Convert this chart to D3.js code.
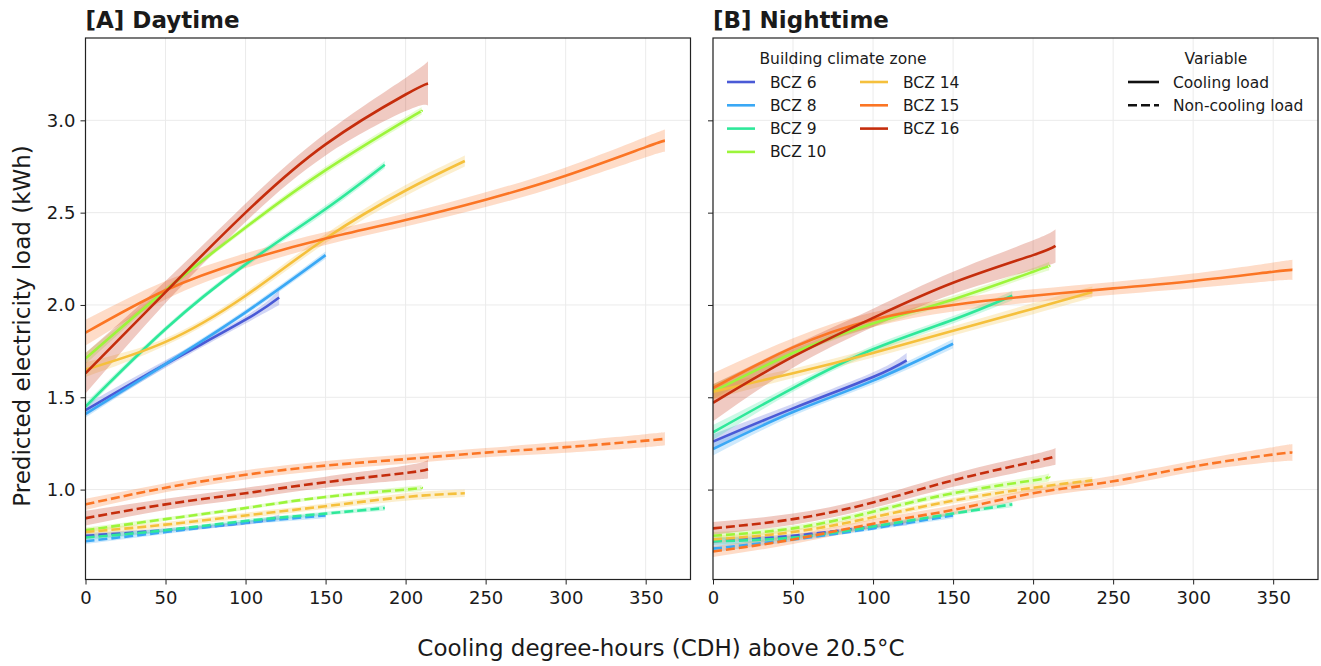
<!DOCTYPE html>
<html lang="en">
<head>
<meta charset="UTF-8">
<script src="https://d3js.org/d3.v7.min.js"></script>
<style>
  body { margin: 0; background: #fff; }
  svg text { font-family: "DejaVu Sans", sans-serif; fill: #1a1a1a; }
</style>
</head>
<body>
<div id="plot"></div>
<script>
// zones, colours and where each zone's CDH range ends
const zones = ["BCZ 6", "BCZ 8", "BCZ 9", "BCZ 10", "BCZ 14", "BCZ 15", "BCZ 16"];
const zoneColors = ["#4a5ad6", "#3aa8f5", "#2ee89a", "#9cf53a", "#f5c03c", "#fb7524", "#c52d0c"];
const zoneMax = [121, 150, 187, 210, 237, 362, 214];
// x knots: 0, 50, 100, ... then the last value is at zoneMax
const knots = [0, 50, 100, 150, 200, 250, 300, 350];

// [A] daytime, cooling load (solid)
const dayCool = [
  [1.43, 1.68, 1.92, 2.04],
  [1.41, 1.68, 1.96, 2.27],
  [1.45, 1.87, 2.22, 2.52, 2.76],
  [1.71, 2.08, 2.42, 2.73, 3.00, 3.05],
  [1.65, 1.80, 2.05, 2.36, 2.62, 2.78],
  [1.85, 2.08, 2.24, 2.36, 2.46, 2.57, 2.70, 2.855, 2.89],
  [1.63, 2.07, 2.50, 2.87, 3.14, 3.20]
];
const dayCoolCI = [
  [0.03, 0.02, 0.02, 0.04],
  [0.02, 0.015, 0.015, 0.02],
  [0.02, 0.015, 0.015, 0.02, 0.02],
  [0.03, 0.015, 0.015, 0.02, 0.02, 0.02],
  [0.04, 0.02, 0.02, 0.025, 0.03, 0.03],
  [0.07, 0.05, 0.04, 0.035, 0.035, 0.04, 0.045, 0.055, 0.06],
  [0.11, 0.06, 0.05, 0.06, 0.09, 0.12]
];
// [A] daytime, non-cooling load (dashed)
const dayNon = [
  [0.75, 0.78, 0.82, 0.85],
  [0.72, 0.77, 0.82, 0.86],
  [0.74, 0.78, 0.83, 0.87, 0.90],
  [0.78, 0.84, 0.90, 0.96, 1.00, 1.01],
  [0.77, 0.81, 0.86, 0.91, 0.96, 0.98],
  [0.92, 1.01, 1.08, 1.13, 1.165, 1.20, 1.23, 1.265, 1.275],
  [0.845, 0.92, 0.98, 1.04, 1.09, 1.11]
];
const dayNonCI = [
  [0.015, 0.01, 0.01, 0.015],
  [0.015, 0.01, 0.01, 0.015],
  [0.015, 0.01, 0.01, 0.01, 0.015],
  [0.015, 0.01, 0.01, 0.01, 0.015, 0.015],
  [0.02, 0.015, 0.015, 0.015, 0.02, 0.02],
  [0.03, 0.025, 0.025, 0.025, 0.025, 0.025, 0.03, 0.035, 0.035],
  [0.04, 0.03, 0.03, 0.03, 0.04, 0.05]
];
// [B] nighttime, cooling load (solid)
const nightCool = [
  [1.26, 1.44, 1.61, 1.70],
  [1.22, 1.42, 1.59, 1.79],
  [1.31, 1.55, 1.76, 1.92, 2.05],
  [1.53, 1.74, 1.90, 2.03, 2.18, 2.21],
  [1.53, 1.63, 1.74, 1.86, 1.98, 2.07],
  [1.55, 1.77, 1.92, 2.00, 2.05, 2.09, 2.13, 2.18, 2.19],
  [1.47, 1.72, 1.93, 2.12, 2.27, 2.32]
];
const nightCoolCI = [
  [0.04, 0.025, 0.025, 0.04],
  [0.035, 0.02, 0.02, 0.025],
  [0.04, 0.02, 0.02, 0.02, 0.025],
  [0.04, 0.02, 0.02, 0.02, 0.02, 0.025],
  [0.04, 0.025, 0.025, 0.025, 0.03, 0.03],
  [0.08, 0.05, 0.04, 0.035, 0.035, 0.035, 0.04, 0.05, 0.055],
  [0.1, 0.06, 0.05, 0.06, 0.08, 0.09]
];
// [B] nighttime, non-cooling load (dashed)
const nightNon = [
  [0.72, 0.75, 0.80, 0.82],
  [0.68, 0.73, 0.79, 0.86],
  [0.72, 0.74, 0.80, 0.87, 0.92],
  [0.75, 0.79, 0.88, 0.98, 1.05, 1.07],
  [0.73, 0.77, 0.85, 0.94, 1.01, 1.05],
  [0.665, 0.73, 0.815, 0.89, 0.98, 1.045, 1.125, 1.19, 1.20],
  [0.79, 0.84, 0.93, 1.05, 1.15, 1.18]
];
const nightNonCI = [
  [0.02, 0.01, 0.01, 0.015],
  [0.02, 0.01, 0.01, 0.015],
  [0.02, 0.01, 0.01, 0.01, 0.015],
  [0.02, 0.015, 0.015, 0.015, 0.02, 0.02],
  [0.02, 0.015, 0.015, 0.015, 0.02, 0.02],
  [0.03, 0.025, 0.025, 0.025, 0.025, 0.03, 0.03, 0.04, 0.045],
  [0.035, 0.03, 0.03, 0.035, 0.04, 0.045]
];

const xTicks = [0, 50, 100, 150, 200, 250, 300, 350];
const yTicks = [1.0, 1.5, 2.0, 2.5, 3.0];

const width = 1321, height = 666;
const svg = d3.select("#plot").append("svg")
    .attr("width", width).attr("height", height);

const panelW = 605, panelTop = 38, panelH = 541.5;
const x = d3.scaleLinear().domain([0, 378]).range([0, panelW]);
const y = d3.scaleLinear().domain([0.513, 3.446]).range([panelH, 0]);

// turn one zone's values into {x, y, ci} points
function points(vals, ci, i) {
  return vals.map((v, k) => ({
    x: k < vals.length - 1 ? knots[k] : zoneMax[i],
    y: v,
    ci: ci[i][k]
  }));
}

function drawPanel(left, title, cool, coolCI, non, nonCI, showY) {
  const g = svg.append("g").attr("transform", `translate(${left},${panelTop})`);

  // grid
  g.append("g").selectAll("line").data(xTicks).join("line")
      .attr("x1", d => x(d)).attr("x2", d => x(d))
      .attr("y1", 0).attr("y2", panelH)
      .attr("stroke", "#ebebeb").attr("stroke-width", 1);
  g.append("g").selectAll("line").data(yTicks).join("line")
      .attr("y1", d => y(d)).attr("y2", d => y(d))
      .attr("x1", 0).attr("x2", panelW)
      .attr("stroke", "#ebebeb").attr("stroke-width", 1);

  const clip = "clip" + left;
  g.append("clipPath").attr("id", clip).append("rect")
      .attr("width", panelW).attr("height", panelH);
  const plot = g.append("g").attr("clip-path", `url(#${clip})`);

  const line = d3.line().x(d => x(d.x)).y(d => y(d.y)).curve(d3.curveNatural);
  const area = d3.area().x(d => x(d.x))
      .y0(d => y(d.y - d.ci)).y1(d => y(d.y + d.ci)).curve(d3.curveNatural);

  [[non, nonCI, "9,4"], [cool, coolCI, null]].forEach(([vals, ci, dash]) => {
    vals.forEach((v, i) => {
      const pts = points(v, ci, i);
      plot.append("path").attr("d", area(pts))
          .attr("fill", zoneColors[i]).attr("fill-opacity", 0.25);
    });
    vals.forEach((v, i) => {
      const pts = points(v, ci, i);
      plot.append("path").attr("d", line(pts))
          .attr("fill", "none").attr("stroke", zoneColors[i])
          .attr("stroke-width", 2.6)
          .attr("stroke-dasharray", dash);
    });
  });

  // axes
  const xAxis = g.append("g").attr("transform", `translate(0,${panelH})`)
      .call(d3.axisBottom(x).tickValues(xTicks).tickSize(5).tickPadding(4).tickFormat(d3.format("d")));
  const yAxis = g.append("g")
      .call(d3.axisLeft(y).tickValues(yTicks).tickSize(5).tickPadding(5)
        .tickFormat(showY ? d3.format(".1f") : ""));
  [xAxis, yAxis].forEach(a => {
    a.select(".domain").remove();
    a.selectAll("line").attr("stroke", "#222").attr("stroke-width", 1);
    a.selectAll("text").attr("font-size", 18).attr("fill", "#222")
        .style("font-family", "DejaVu Sans, sans-serif");
  });
  xAxis.selectAll("text").attr("dy", "0.85em");

  g.append("rect").attr("width", panelW).attr("height", panelH)
      .attr("fill", "none").attr("stroke", "#222").attr("stroke-width", 1.2);

  g.append("text").attr("x", 0).attr("y", -10)
      .attr("font-size", 23).attr("font-weight", "bold").text(title);
  return g;
}

drawPanel(85.5, "[A] Daytime", dayCool, dayCoolCI, dayNon, dayNonCI, true);
const gB = drawPanel(713, "[B] Nighttime", nightCool, nightCoolCI, nightNon, nightNonCI, false);

// axis labels
svg.append("text")
    .attr("transform", "translate(30,326) rotate(-90)")
    .attr("text-anchor", "middle").attr("font-size", 23)
    .text("Predicted electricity load (kWh)");
svg.append("text")
    .attr("x", 661).attr("y", 656)
    .attr("text-anchor", "middle").attr("font-size", 23)
    .text("Cooling degree-hours (CDH) above 20.5°C");

// legend: zones
const leg = gB.append("g");
leg.append("text").attr("x", 130).attr("y", 26).attr("text-anchor", "middle")
    .attr("font-size", 15.5).text("Building climate zone");
zones.forEach((z, i) => {
  const col = i < 4 ? 0 : 1, row = i < 4 ? i : i - 4;
  const lx = 14 + col * 133, ly = 44 + row * 23.3;
  leg.append("line").attr("x1", lx).attr("x2", lx + 28).attr("y1", ly).attr("y2", ly)
      .attr("stroke", zoneColors[i]).attr("stroke-width", 2.6);
  leg.append("text").attr("x", lx + 43).attr("y", ly + 5.5)
      .attr("font-size", 15.5).text(z);
});

// legend: variable
const vars = ["Cooling load", "Non-cooling load"];
leg.append("text").attr("x", 503).attr("y", 26).attr("text-anchor", "middle")
    .attr("font-size", 15.5).text("Variable");
vars.forEach((v, i) => {
  const lx = 415, ly = 44 + i * 23.3;
  leg.append("line").attr("x1", lx).attr("x2", lx + 31).attr("y1", ly).attr("y2", ly)
      .attr("stroke", "#111").attr("stroke-width", 2.6)
      .attr("stroke-dasharray", i ? "9,4" : null);
  leg.append("text").attr("x", lx + 45).attr("y", ly + 5.5)
      .attr("font-size", 15.5).text(v);
});
</script>
</body>
</html>
